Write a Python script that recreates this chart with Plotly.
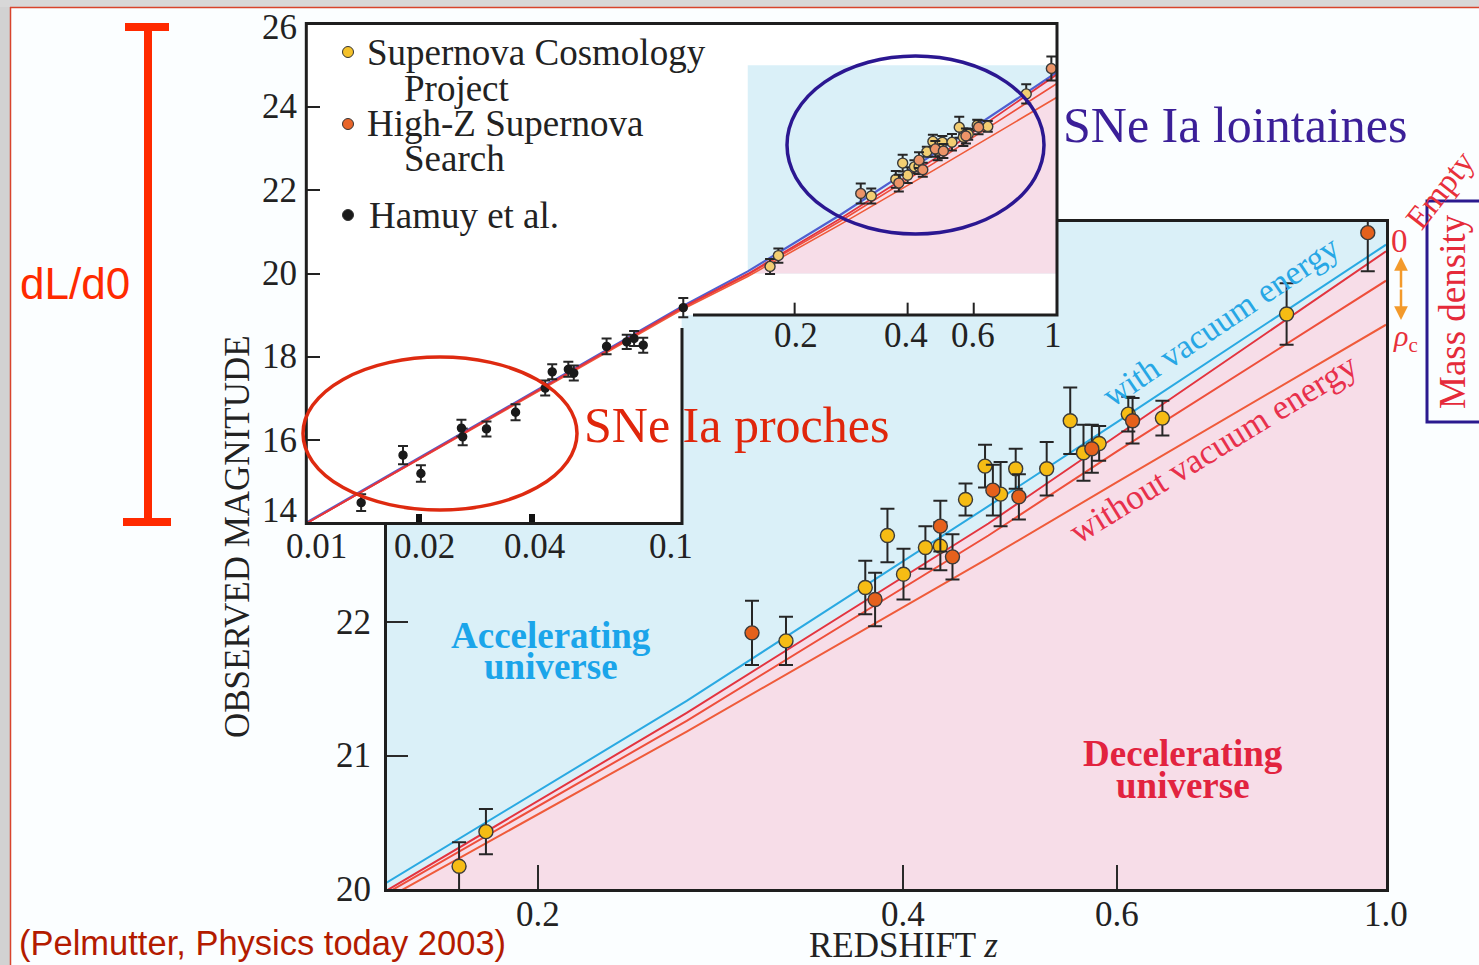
import math
import plotly.graph_objects as go

W, H = 1479, 965

# ---------------- data ----------------
# Supernova Cosmology Project (yellow)
scp_z = [0.172, 0.181, 0.320, 0.372, 0.388, 0.400, 0.417, 0.429, 0.450, 0.467,
         0.481, 0.495, 0.525, 0.549, 0.563, 0.580, 0.613, 0.654, 0.828]
scp_mag = [20.17, 20.43, 21.86, 22.26, 22.65, 22.36, 22.56, 22.57, 22.92, 23.17,
           22.96, 23.15, 23.15, 23.51, 23.27, 23.34, 23.56, 23.53, 24.31]
scp_err = [0.18, 0.17, 0.18, 0.20, 0.20, 0.19, 0.16, 0.18, 0.12, 0.16,
           0.24, 0.15, 0.20, 0.25, 0.21, 0.13, 0.13, 0.13, 0.23]

# High-Z Supernova Search (orange)
hz_z = [0.300, 0.379, 0.429, 0.439, 0.474, 0.498, 0.572, 0.618, 0.966]
hz_mag = [21.92, 22.17, 22.72, 22.49, 22.99, 22.94, 23.30, 23.51, 24.92]
hz_err = [0.24, 0.20, 0.19, 0.17, 0.19, 0.17, 0.18, 0.17, 0.29]

# Hamuy et al. (black, nearby)
hamuy_z = [0.0140, 0.0181, 0.0202, 0.0259, 0.0261, 0.0302, 0.0361, 0.0433, 0.0452,
           0.0499, 0.0516, 0.0631, 0.0714, 0.0747, 0.0790, 0.101]
hamuy_mag = [14.50, 15.64, 15.20, 16.29, 16.08, 16.27, 16.67, 17.25, 17.64,
             17.70, 17.61, 18.25, 18.36, 18.44, 18.28, 19.18]
hamuy_err = [0.20, 0.22, 0.20, 0.20, 0.20, 0.18, 0.19, 0.18, 0.18,
             0.18, 0.18, 0.19, 0.17, 0.18, 0.18, 0.23]

# model curves
model_z = [0.01, 0.1, 0.15, 0.265, 0.47, 0.6, 1.0]
mag_vacuum = [14.02, 19.20, 20.05, 21.41, 22.87, 23.50, 24.83]
mag_empty = [14.00, 19.18, 19.99, 21.32, 22.74, 23.40, 24.78]
mag_low = [14.00, 19.16, 19.97, 21.26, 22.65, 23.28, 24.56]
mag_crit = [14.00, 19.13, 19.93, 21.18, 22.48, 23.05, 24.23]

# axes
main_z_range = [0.15, 1.0]
main_m_range = [20, 25]
inset_z_range = [0.01, 1.0]
inset_m_range = [14, 26]
notch_z, notch_m = 0.1, 19

main_xticks = [0.2, 0.4, 0.6, 1.0]
main_xtick_text = ["0.2", "0.4", "0.6", "1.0"]
main_yticks = [20, 21, 22]
inset_yticks = [14, 16, 18, 20, 22, 24, 26]
inset_xticks_low = [0.01, 0.02, 0.04, 0.1]
inset_xticks_low_text = ["0.01", "0.02", "0.04", "0.1"]
inset_xticks_high = [0.2, 0.4, 0.6, 1.0]
inset_xticks_high_text = ["0.2", "0.4", "0.6", "1"]

# ---------------- style ----------------
SERIF = "Liberation Serif"
SANS = "Liberation Sans"
BLUE_BG = "#DAF0F8"
PINK_BG = "#F7DDE8"
C_VAC = "#2AA9E2"
C_EMPTY = "#E3343F"
C_LOW = "#EE4F3B"
C_CRIT = "#EF5B3A"
C_SCP = "#F6BC14"
C_HZ = "#E5611C"
C_SCP_PALE = "#F2CE72"
C_HZ_PALE = "#EC9468"
INK = "#1e1e1e"

L = math.log10


def X(p):
    return p / W


def Y(p):
    return 1 - p / H


MAIN_DOM_X = [X(387), X(1386)]
MAIN_DOM_Y = [Y(889), Y(222)]
INSET_DOM_X = [X(306.3), X(1057)]
INSET_DOM_Y = [Y(523.5), Y(23.5)]

fig = go.Figure()


def poly(xs, ys, color, xa, ya):
    return go.Scatter(x=xs, y=ys, mode="lines", fill="toself", fillcolor=color,
                      line=dict(width=0), hoverinfo="skip", showlegend=False,
                      xaxis=xa, yaxis=ya)


def curve(ys, color, width, xa, ya):
    return go.Scatter(x=model_z, y=ys, mode="lines", line=dict(color=color, width=width),
                      hoverinfo="skip", showlegend=False, xaxis=xa, yaxis=ya)


def points(zs, ms, es, color, size, xa, ya, cap, edge="#3a3a3a"):
    return go.Scatter(x=zs, y=ms, mode="markers",
                      error_y=dict(type="data", array=es, color="#262626", thickness=2, width=cap),
                      marker=dict(size=size, color=color, line=dict(color=edge, width=1.4)),
                      hoverinfo="skip", showlegend=False, xaxis=xa, yaxis=ya)


# pink (decelerating) polygon below the empty-universe curve
pz = [z for z in model_z if z >= main_z_range[0]]
pm = [m for z, m in zip(model_z, mag_empty) if z >= main_z_range[0]]
pink_x = pz + [main_z_range[1], main_z_range[0]]
pink_y = pm + [main_m_range[0], main_m_range[0]]

# ---------------- main panel ----------------
z0, z1 = main_z_range
m0, m1 = main_m_range
fig.add_trace(poly([z0, z1, z1, z0, z0], [m0, m0, m1, m1, m0], BLUE_BG, "x", "y"))
fig.add_trace(poly(pink_x, pink_y, PINK_BG, "x", "y"))
fig.add_trace(curve(mag_crit, C_CRIT, 2, "x", "y"))
fig.add_trace(curve(mag_low, C_LOW, 2, "x", "y"))
fig.add_trace(curve(mag_empty, C_EMPTY, 2, "x", "y"))
fig.add_trace(curve(mag_vacuum, C_VAC, 2, "x", "y"))
fig.add_trace(points(scp_z, scp_mag, scp_err, C_SCP, 14, "x", "y", 7))
fig.add_trace(points(hz_z, hz_mag, hz_err, C_HZ, 14, "x", "y", 7))

# ---------------- inset panel ----------------
iz0, iz1 = inset_z_range
im0, im1 = inset_m_range
fig.add_trace(poly([iz0, notch_z, notch_z, iz1, iz1, iz0, iz0],
                   [im0, im0, notch_m, notch_m, im1, im1, im0], "#FFFFFF", "x2", "y2"))
fig.add_trace(poly([z0, z1, z1, z0, z0], [m0, m0, m1, m1, m0], BLUE_BG, "x2", "y2"))
fig.add_trace(poly(pink_x, pink_y, PINK_BG, "x2", "y2"))
fig.add_trace(curve(mag_vacuum, "#4F5FD0", 2.2, "x2", "y2"))
fig.add_trace(curve(mag_crit, C_CRIT, 1.6, "x2", "y2"))
fig.add_trace(curve(mag_low, C_LOW, 1.6, "x2", "y2"))
fig.add_trace(curve(mag_empty, C_EMPTY, 1.8, "x2", "y2"))
fig.add_trace(points(hamuy_z, hamuy_mag, hamuy_err, "#1a1a1a", 8, "x2", "y2", 5, edge="#1a1a1a"))
fig.add_trace(points(scp_z, scp_mag, scp_err, C_SCP_PALE, 10, "x2", "y2", 5))
fig.add_trace(points(hz_z, hz_mag, hz_err, C_HZ_PALE, 10, "x2", "y2", 5))

axis_common = dict(showgrid=False, zeroline=False, showticklabels=False, fixedrange=True)
fig.update_layout(
    width=W, height=H, autosize=False,
    margin=dict(l=0, r=0, t=0, b=0),
    paper_bgcolor="#FBFEFF", plot_bgcolor="rgba(0,0,0,0)",
    showlegend=False,
    xaxis=dict(domain=MAIN_DOM_X, anchor="y", type="log", range=[L(z0), L(z1)],
               showline=True, mirror=True, linecolor=INK, linewidth=3,
               ticks="inside", tickvals=main_xticks[:-1], ticklen=24, tickwidth=2,
               tickcolor="#2a2a2a", **axis_common),
    yaxis=dict(domain=MAIN_DOM_Y, anchor="x", range=[m0, m1],
               showline=True, mirror=True, linecolor=INK, linewidth=3,
               ticks="inside", tickvals=main_yticks, ticklen=21, tickwidth=2,
               tickcolor="#2a2a2a", **axis_common),
    xaxis2=dict(domain=INSET_DOM_X, anchor="y2", type="log", range=[L(iz0), L(iz1)],
                showline=False, ticks="inside", tickvals=inset_xticks_low[1:3],
                ticklen=10, tickwidth=6, tickcolor="#111111", **axis_common),
    yaxis2=dict(domain=INSET_DOM_Y, anchor="x2", range=[im0, im1],
                showline=False, ticks="inside", tickvals=inset_yticks[1:-1],
                ticklen=14, tickwidth=2, tickcolor="#222222", **axis_common),
)

# ---------------- shapes ----------------
shapes = []
# page border / shadow
shapes.append(dict(type="rect", xref="paper", yref="paper", x0=0, x1=X(10), y0=0, y1=1,
                   fillcolor="#D2D2D2", line=dict(width=0), layer="below"))
shapes.append(dict(type="rect", xref="paper", yref="paper", x0=0, x1=1, y0=Y(7), y1=1,
                   fillcolor="#D8D8D8", line=dict(width=0), layer="below"))
shapes.append(dict(type="line", xref="paper", yref="paper", x0=X(10.5), x1=X(10.5), y0=0, y1=Y(7),
                   line=dict(color="#D8442C", width=1.5), layer="below"))
shapes.append(dict(type="line", xref="paper", yref="paper", x0=X(10), x1=1, y0=Y(7.5), y1=Y(7.5),
                   line=dict(color="#D8442C", width=1.5), layer="below"))

# inset frame (L shape)
frame_pts = [(693, 315), (1057, 315), (1057, 23.5), (306.3, 23.5), (306.3, 523.5),
             (682, 523.5), (682, 328)]
path = "M " + " L ".join(f"{X(a):.5f},{Y(b):.5f}" for a, b in frame_pts)
shapes.append(dict(type="path", xref="paper", yref="paper", path=path,
                   line=dict(color=INK, width=3), layer="above"))
# inset ticks on the notch edge
span = L(iz1) - L(iz0)
for v in inset_xticks_high[:-1]:
    f = (L(v) - L(iz0)) / span
    shapes.append(dict(type="line", xref="x2 domain", yref="y2", x0=f, x1=f,
                       y0=notch_m, y1=notch_m + 0.3, line=dict(color="#222222", width=2),
                       layer="above"))
# ellipses
shapes.append(dict(type="circle", xref="paper", yref="paper", x0=X(303), x1=X(577),
                   y0=Y(510), y1=Y(357), line=dict(color="#DE2A10", width=3.5), layer="above"))
shapes.append(dict(type="circle", xref="paper", yref="paper", x0=X(787), x1=X(1044),
                   y0=Y(234), y1=Y(56), line=dict(color="#2B1791", width=3.5), layer="above"))
# legend markers
for cy, col in [(52, "#F4C12A"), (124, "#E8652A"), (215, "#1a1a1a")]:
    shapes.append(dict(type="circle", xref="paper", yref="paper", x0=X(342.5), x1=X(353.5),
                       y0=Y(cy + 5.5), y1=Y(cy - 5.5), fillcolor=col,
                       line=dict(color="#333333", width=1), layer="above"))
# dL/d0 bar
RED = "#FF2A00"
shapes.append(dict(type="line", xref="paper", yref="paper", x0=X(148), x1=X(148), y0=Y(26), y1=Y(523),
                   line=dict(color=RED, width=8), layer="above"))
shapes.append(dict(type="line", xref="paper", yref="paper", x0=X(125), x1=X(169), y0=Y(27), y1=Y(27),
                   line=dict(color=RED, width=8), layer="above"))
shapes.append(dict(type="line", xref="paper", yref="paper", x0=X(123), x1=X(171), y0=Y(522), y1=Y(522),
                   line=dict(color=RED, width=8), layer="above"))
# mass density box
shapes.append(dict(type="rect", xref="paper", yref="paper", x0=X(1427), x1=X(1495), y0=Y(422), y1=Y(201),
                   line=dict(color="#2B1A8F", width=3), layer="above"))
fig.update_layout(shapes=shapes)

# ---------------- annotations ----------------
anns = []


def ann(text, x, y, size, color="#222222", xref="paper", yref="paper", xanchor="center",
        yanchor="middle", angle=0, family=SERIF, xshift=0, yshift=0):
    anns.append(dict(text=text, x=x, y=y, xref=xref, yref=yref, xanchor=xanchor,
                     yanchor=yanchor, textangle=angle, showarrow=False,
                     font=dict(family=family, size=size, color=color),
                     xshift=xshift, yshift=yshift))


# main tick labels
for v, t in zip(main_xticks, main_xtick_text):
    ann(t, L(v), Y(914), 35, xref="x")
for v in main_yticks:
    ann(str(v), X(373), v, 35, yref="y", xanchor="right")
# inset tick labels
for v in inset_yticks:
    ys = 13 if v == inset_m_range[0] else (-4 if v == inset_m_range[1] else 0)
    ann(str(v), X(299), v, 35, yref="y2", xanchor="right", yshift=ys)
for v, t, s in zip(inset_xticks_low, inset_xticks_low_text, [10, 5, 2, -11]):
    ann(t, L(v), Y(546), 35, xref="x2", xshift=s)
for v, t, s in zip(inset_xticks_high, inset_xticks_high_text, [1, -2, -1, -4]):
    ann(t, L(v), Y(336), 35, xref="x2", xshift=s)

# axis titles
ann("OBSERVED MAGNITUDE", X(237), Y(537), 35, angle=-90)
ann("REDSHIFT <i>z</i>", X(903), Y(945), 35)

# legend text
ann("Supernova Cosmology", X(365), Y(52), 37, xanchor="left")
ann("Project", X(402), Y(88), 37, xanchor="left")
ann("High-Z Supernova", X(365), Y(124), 37, xanchor="left")
ann("Search", X(402), Y(158), 37, xanchor="left")
ann("Hamuy et al.", X(367), Y(215), 37, xanchor="left")

# region labels
ann("<b>Accelerating</b>", X(551), Y(635), 37, color="#1BA5EA")
ann("<b>universe</b>", X(551), Y(666), 37, color="#1BA5EA")
ann("<b>Decelerating</b>", X(1183), Y(753), 37, color="#E2233F")
ann("<b>universe</b>", X(1183), Y(785), 37, color="#E2233F")
ann("with vacuum energy", X(1220), Y(321), 34, color="#27A7E5", angle=-34)
ann("without vacuum energy", X(1213), Y(448), 35, color="#E8304C", angle=-31.5)

# callouts
ann("SNe Ia proches", X(736), Y(425), 50, color="#E0260B")
ann("SNe Ia lointaines", X(1235), Y(125), 50, color="#3B1F98")

# right side
ann("0", X(1399), Y(241), 33, color="#E8303A")
ann("Empty", X(1440), Y(190), 33, color="#E8303A", angle=-52)
ann("<i>ρ</i><sub>c</sub>", X(1405), Y(338), 30, color="#E8303A")
ann("Mass density", X(1452), Y(312), 37, color="#E52A3A", angle=-90)

# dL/d0 + citation
ann("dL/d0", X(75), Y(283), 44, color=RED, family=SANS)
ann("(Pelmutter, Physics today 2003)", X(17), Y(943), 34.5, color="#B31B00",
    xanchor="left", family=SANS)

# orange double arrow
for yh, ay in [(257, 32), (320, -32)]:
    anns.append(dict(text="", x=X(1401), y=Y(yh), xref="paper", yref="paper",
                     showarrow=True, ax=0, ay=ay, arrowhead=2, arrowsize=1.1,
                     arrowwidth=2.5, arrowcolor="#F39A2B", standoff=0))

fig.update_layout(annotations=anns)

fig.write_html("out.html")
